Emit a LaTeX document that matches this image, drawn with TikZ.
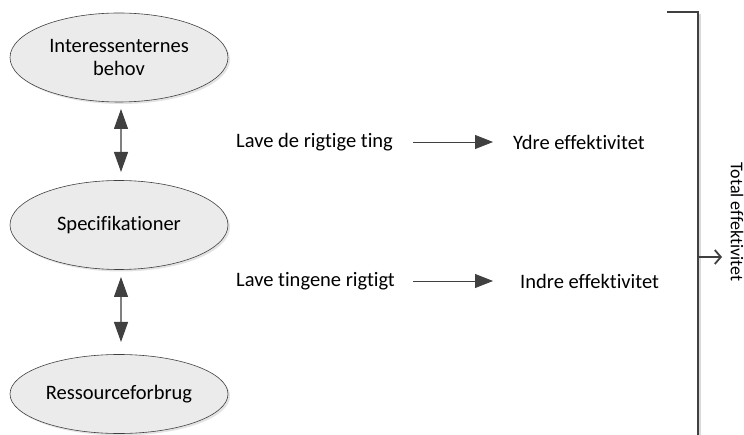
\documentclass[tikz,border=0pt]{standalone}
\usepackage{fontspec}
\setmainfont[Ligatures={NoCommon}]{Carlito}
\usetikzlibrary{arrows.meta,shadows,shapes.geometric}
\definecolor{linec}{HTML}{404040}
\definecolor{fillc}{HTML}{EBEBEB}
\tikzset{
  oval/.style={ellipse, draw=linec, line width=0.6pt, fill=fillc,
    minimum width=218pt, minimum height=89pt, inner sep=0pt, align=center,
    font=\fontsize{20.5}{23}\selectfont,
    drop shadow={shadow xshift=2pt, shadow yshift=-2pt, fill=black!18, opacity=0.6}},
  lbl/.style={inner sep=0pt, font=\fontsize{20.5}{24}\selectfont},
  tip/.style={-{Triangle[length=18pt,width=14pt,color=linec]}},
  dtip/.style={{Triangle[length=20pt,width=14pt,color=linec]}-{Triangle[length=20pt,width=14pt,color=linec]}},
  conn/.style={draw=gray, line width=1.2pt},
}
\begin{document}
\begin{tikzpicture}[x=1pt,y=-1pt]
\useasboundingbox (0,0) rectangle (744,435);

% three stacked ellipses
\node[oval] (beh) at (119,57.5) {Interessenternes\\behov};
\node[oval] (spec) at (119,225) {Specifikationer};
\node[oval, minimum height=79pt] (res) at (119,394) {Ressourceforbrug};

% double arrows between the ellipses
\coordinate (a1) at (121,109);
\coordinate (a2) at (121,172);
\coordinate (b1) at (121,277);
\coordinate (b2) at (121,342);
\draw[conn, dtip] (a1) -- (a2);
\draw[conn, dtip] (b1) -- (b2);

% effectiveness statements
\node[lbl, anchor=west] (l1) at (236,142) {Lave de rigtige ting};
\node[lbl, anchor=west] (r1) at (513,142) {Ydre effektivitet};
\node[lbl, anchor=west] (l2) at (236,281) {Lave tingene rigtigt};
\node[lbl, anchor=west] (r2) at (520,281) {Indre effektivitet};
\coordinate (p1) at (413,142);
\coordinate (q1) at (493,142);
\coordinate (p2) at (413,281);
\coordinate (q2) at (493,281);
\draw[line width=0.8pt, draw=linec, tip] (p1) -- (q1);
\draw[line width=0.8pt, draw=linec, tip] (p2) -- (q2);

% bracket collecting both to the total
\coordinate (bt) at (667,12);
\coordinate (bc) at (698,12);
\coordinate (bb) at (698,436);
\coordinate (bm) at (698,257);
\coordinate (be) at (722,257);
\draw[draw=black!15, line width=1.5pt] ([xshift=2pt,yshift=-2pt]bc) -- ([xshift=2pt]bb);
\draw[draw=linec, line width=1.8pt] (bt) -- (bc) -- (bb);
\draw[draw=linec, line width=1.8pt, -{Straight Barb[length=6pt,width=14pt]}] (bm) -- (be);
\node[inner sep=0pt, font=\fontsize{18}{20}\selectfont, rotate=-90] (tot) at (737,222) {Total effektivitet};
\end{tikzpicture}
\end{document}
